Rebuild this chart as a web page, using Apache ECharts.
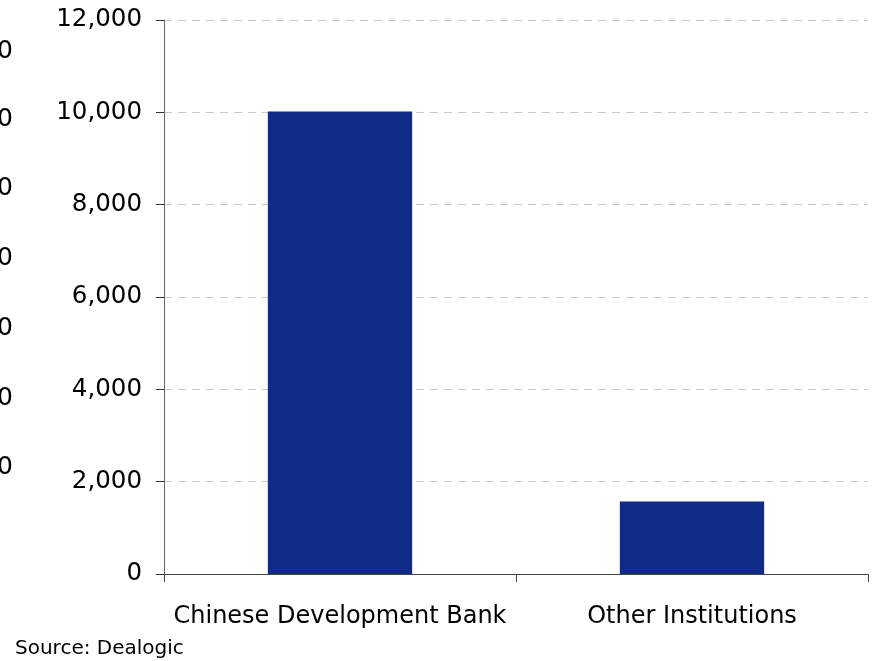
<!DOCTYPE html>
<html>
<head>
<meta charset="utf-8">
<script src="https://cdn.jsdelivr.net/npm/echarts@6/dist/echarts.min.js"></script>
<style>html,body{margin:0;padding:0;background:#fff;}#c{width:874px;height:661px;}</style>
</head>
<body>
<div id="c"></div>
<script>
var categories = ['Chinese Development Bank', 'Other Institutions'];
var values = [10020, 1570];
var yTicks = [0, 2000, 4000, 6000, 8000, 10000, 12000];
var sourceText = 'Source: Dealogic';
var clippedLabels = ['0', '0', '0', '0', '0', '0', '0'];

var chart = echarts.init(document.getElementById('c'), null, {renderer: 'canvas'});
var font = 'DejaVu Sans';
var graphics = [{
  type: 'text', left: 15, top: 639,
  style: {text: sourceText, font: '20px "DejaVu Sans"', fill: '#000'}
}];
var clipY = [50, 118, 187, 257, 327, 397, 466];
clippedLabels.forEach(function (t, i) {
  graphics.push({type: 'text', x: -3, y: clipY[i] - 11,
    style: {text: t, font: '25px "DejaVu Sans"', fill: '#000'}});
});
chart.setOption({
  animation: false,
  grid: {left: 164, right: 6, top: 20, bottom: 87, containLabel: false},
  xAxis: {
    type: 'category', data: categories,
    axisLine: {lineStyle: {color: '#444', width: 1}},
    axisTick: {show: true, length: 8, alignWithLabel: false, lineStyle: {color: '#444'}},
    axisLabel: {fontFamily: font, fontSize: 24, color: '#000', margin: 31, interval: 0}
  },
  yAxis: {
    type: 'value', min: yTicks[0], max: yTicks[yTicks.length - 1], interval: 2000,
    axisLine: {show: true, lineStyle: {color: '#666'}},
    axisTick: {show: true, length: 8, inside: false, lineStyle: {color: '#333'}},
    axisLabel: {fontFamily: font, fontSize: 24.5, color: '#000', margin: 22, padding: [4, 0, 0, 0],
      formatter: function (v) { return v.toLocaleString('en-US'); }},
    splitLine: {show: true, lineStyle: {color: '#c8c8c8', type: [8, 6]}}
  },
  series: [{
    type: 'bar', data: values, barWidth: '41%',
    itemStyle: {color: '#0f2a87'}
  }],
  graphic: graphics
});
</script>
</body>
</html>
